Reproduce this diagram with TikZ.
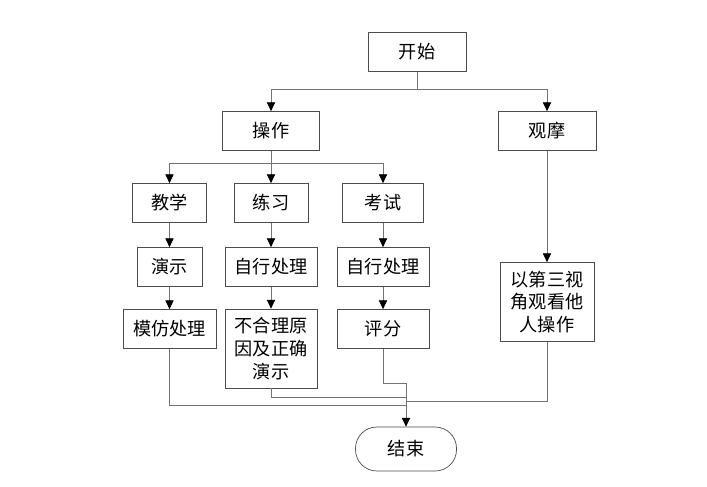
\documentclass[tikz,border=0pt]{standalone}
\usepackage{fontspec}
\setmainfont{Noto Sans CJK SC}
\usetikzlibrary{arrows.meta, calc}

\definecolor{ink}{gray}{0.30}
\definecolor{wire}{gray}{0.45}

\begin{document}
\begin{tikzpicture}[
  x=0.03cm, y=-0.03cm,
  box/.style={draw=ink, line width=.6pt, align=center, inner sep=0pt,
              font=\fontsize{15.5}{19.5}\selectfont, minimum height=1.17cm},
  tall/.style={box, minimum height=2.37cm},
  term/.style={box, rounded corners=0.64cm, minimum width=3.03cm, minimum height=1.32cm},
  ln/.style={draw=wire, line width=.6pt},
  ar/.style={ln, -{Triangle[length=7.5pt, width=7pt, color=black]}},
]
\useasboundingbox (0,0) rectangle (707,487);

\node[box, minimum width=2.94cm] (start) at (417,52)    {开始};
\node[box, minimum width=2.91cm] (op)    at (271,131)   {操作};
\node[box, minimum width=2.94cm] (obs)   at (547,131)   {观摩};

\node[box, minimum width=2.22cm] (teach) at (169.5,203) {教学};
\node[box, minimum width=2.22cm] (prac)  at (271,203)   {练习};
\node[box, minimum width=2.43cm] (exam)  at (383,203)   {考试};

\node[box, minimum width=1.95cm] (demo)  at (169.5,267) {演示};
\node[box, minimum width=2.76cm] (self)  at (271,267)   {自行处理};
\node[box, minimum width=2.76cm] (selfb) at (383,267)   {自行处理};

\node[box, minimum width=2.79cm] (imit)  at (169.5,329) {模仿处理};
\node[tall, minimum width=2.76cm] (why)  at (271,348.5) {不合理原\\因及正确\\演示};
\node[box, minimum width=2.76cm] (score) at (383,329)   {评分};
\node[tall, minimum width=2.82cm] (third) at (547,302)  {以第三视\\角观看他\\人操作};

\node[term] (end) at (406,449) {结束};

% junctions
\coordinate (top)  at (417,89);
\coordinate (mid)  at (271,163);
\coordinate (jsc)  at (406,383);
\coordinate (jwhy) at (406,397);
\coordinate (jobs) at (406,401);
\coordinate (jim)  at (406,405);

\draw[ln] (start) -- (top);
\draw[ar] (top) -| (op);
\draw[ar] (top) -| (obs);

\draw[ln] (op) -- (mid);
\draw[ar] (mid) -| (teach);
\draw[ar] (mid) -- (prac);
\draw[ar] (mid) -| (exam);

\draw[ar] (teach) -- (demo);
\draw[ar] (prac) -- (self);
\draw[ar] (exam) -- (selfb);
\draw[ar] (demo) -- (imit);
\draw[ar] (self) -- (why);
\draw[ar] (selfb) -- (score);
\draw[ar] (obs) -- (third);

\draw[ln] (imit) |- (jim);
\draw[ln] (why) |- (jwhy);
\draw[ln] (third) |- (jobs);
\draw[ar] (score) |- (jsc) -- (end);
\end{tikzpicture}
\end{document}
